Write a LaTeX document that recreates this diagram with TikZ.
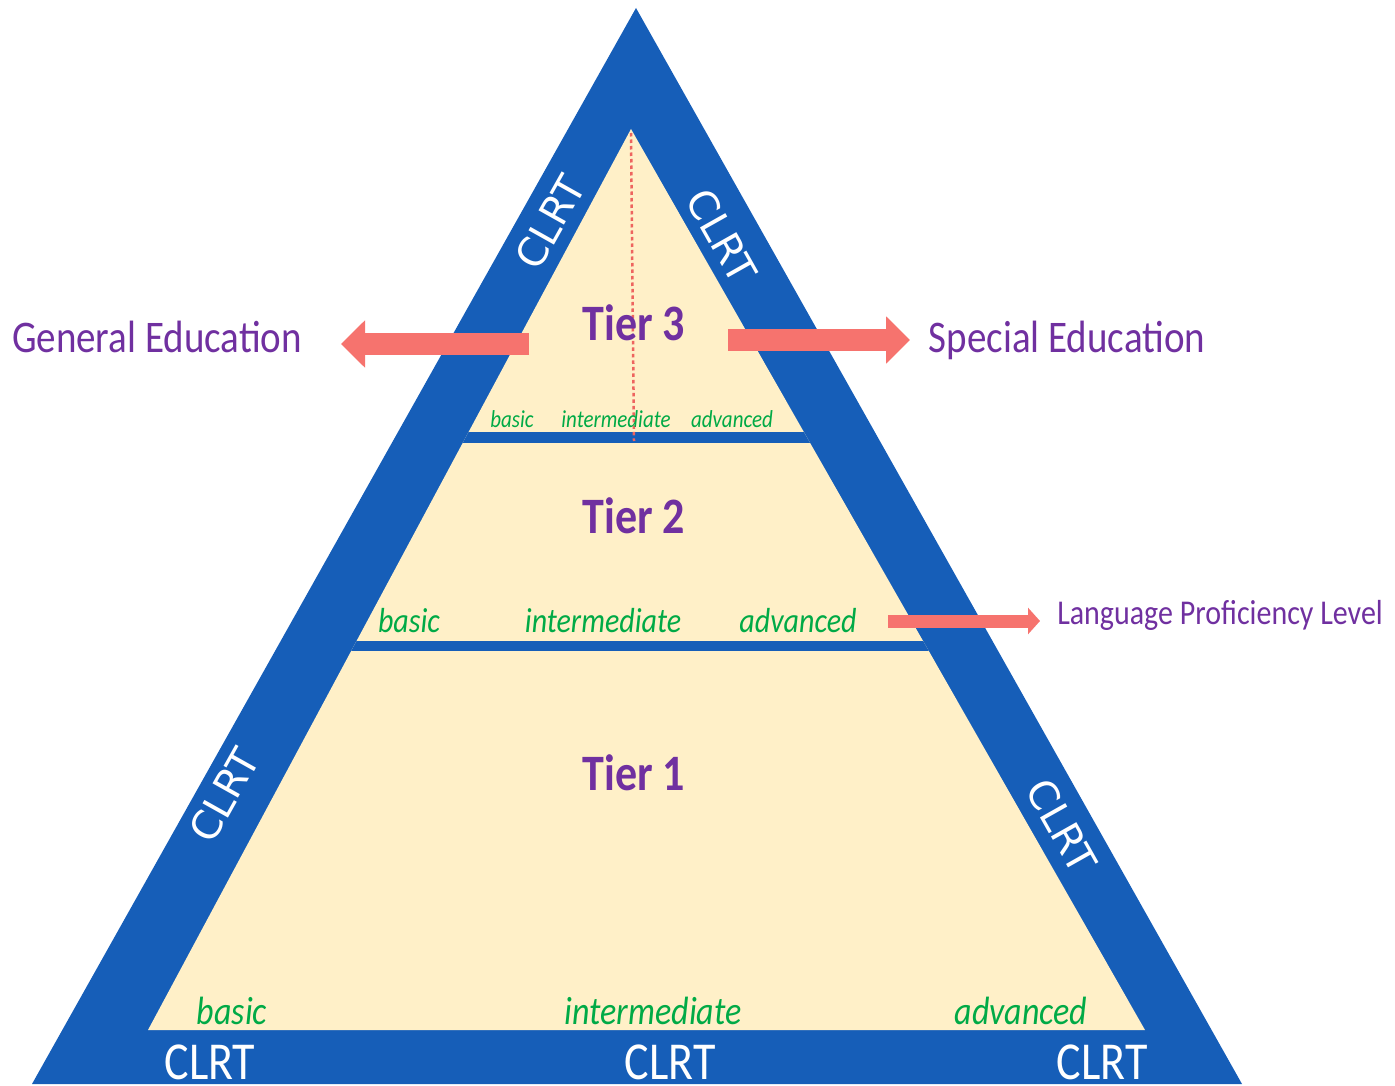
\documentclass[tikz,border=0pt]{standalone}
\usepackage{fontspec}
\setmainfont{Carlito}
\newfontfamily\dejavu{DejaVu Sans}
\usetikzlibrary{arrows.meta}
\definecolor{pyrblue}{RGB}{22,94,184}
\definecolor{cream}{RGB}{255,240,200}
\definecolor{tierpurple}{RGB}{112,48,160}
\definecolor{lvlgreen}{RGB}{0,170,70}
\definecolor{salmon}{RGB}{246,115,110}
\definecolor{dotred}{RGB}{238,100,95}
\newcommand{\tallt}[1]{\scalebox{1}[1.16]{#1}}
\begin{document}
\begin{tikzpicture}[x=1pt,y=-1pt,
  sidelabel/.style={text=white,font=\dejavu\fontsize{40}{40}\selectfont,inner sep=0pt},
  baselabel/.style={text=white,font=\fontsize{46}{46}\selectfont,inner sep=0pt,anchor=base},
  tierlabel/.style={text=tierpurple,font=\bfseries\fontsize{44}{44}\selectfont,inner sep=0pt,anchor=base},
  lvlbig/.style={text=lvlgreen,font=\itshape\fontsize{34}{34}\selectfont,inner sep=0pt,anchor=base},
  lvlmid/.style={text=lvlgreen,font=\itshape\fontsize{30}{30}\selectfont,inner sep=0pt,anchor=base},
  lvlsmall/.style={text=lvlgreen,font=\itshape\fontsize{21}{21}\selectfont,inner sep=0pt,anchor=base},
  sidetext/.style={text=tierpurple,font=\fontsize{39}{39}\selectfont,inner sep=0pt,anchor=base},
  blockarrow/.style={draw=salmon,line width=22pt,-{Triangle[length=24pt,width=46pt]}},
  thinarrow/.style={draw=salmon,line width=13pt,-{Triangle[length=12pt,width=26pt]}}
]
\useasboundingbox (0,0) rectangle (1395,1086);
% outer and inner triangles
\coordinate (oA) at (636,8);
\coordinate (oL) at (32,1084);
\coordinate (oR) at (1242,1084);
\coordinate (iA) at (631,129);
\coordinate (iL) at (148,1030);
\coordinate (iR) at (1145,1030);
\fill[pyrblue] (oA) -- (oL) -- (oR) -- cycle;
\fill[cream] (iA) -- (iL) -- (iR) -- cycle;
\begin{scope}
  \clip (iA) -- (iL) -- (iR) -- cycle;
  \fill[pyrblue] (0,432) rectangle (1395,443);
  \fill[pyrblue] (0,641) rectangle (1395,651);
\end{scope}
% dotted axis
\coordinate (dTop) at (631,133);
\coordinate (dBot) at (634,441);
\draw[dotred,line width=2.5pt,dash pattern=on 3.5pt off 3pt] (dTop) -- (dBot);
% side labels
\node[sidelabel,rotate=60.7] (c1) at (550,222) {CLRT};
\node[sidelabel,rotate=-60.6] (c2) at (722,236) {CLRT};
\node[sidelabel,rotate=60.7] (c3) at (224,795) {CLRT};
\node[sidelabel,rotate=-60.6] (c4) at (1062,826) {CLRT};
% bottom labels
\node[baselabel] (b1) at (210,1079) {\tallt{CLRT}};
\node[baselabel] (b2) at (670,1079) {\tallt{CLRT}};
\node[baselabel] (b3) at (1102,1079) {\tallt{CLRT}};
% tiers
\node[tierlabel] (t3) at (634,340) {\tallt{Tier 3}};
\node[tierlabel] (t2) at (634,533) {\tallt{Tier 2}};
\node[tierlabel] (t1) at (634,790) {\tallt{Tier 1}};
% level labels
\node[lvlsmall] (s1) at (512,427) {\tallt{basic}};
\node[lvlsmall] (s2) at (616,427) {\tallt{intermediate}};
\node[lvlsmall] (s3) at (732,427) {\tallt{advanced}};
\node[lvlmid] (m1) at (409,632) {\tallt{basic}};
\node[lvlmid] (m2) at (603,632) {\tallt{intermediate}};
\node[lvlmid] (m3) at (798,632) {\tallt{advanced}};
\node[lvlbig] (g1) at (232,1024) {\tallt{basic}};
\node[lvlbig] (g2) at (653,1024) {\tallt{intermediate}};
\node[lvlbig] (g3) at (1021,1024) {\tallt{advanced}};
% outside texts
\node[sidetext] (gen) at (157,352) {\tallt{General Education}};
\node[sidetext] (spe) at (1067,352) {\tallt{Special Education}};
\node[sidetext,font=\fontsize{30}{30}\selectfont] (lpl) at (1220,624) {\tallt{Language Proficiency Level}};
% arrows
\coordinate (genS) at (529,344);
\coordinate (genE) at (341,344);
\coordinate (speS) at (728,340);
\coordinate (speE) at (910,340);
\coordinate (lplS) at (888,621);
\coordinate (lplE) at (1040,621);
\draw[blockarrow] (genS) -- (genE);
\draw[blockarrow] (speS) -- (speE);
\draw[thinarrow] (lplS) -- (lplE);
\end{tikzpicture}
\end{document}
